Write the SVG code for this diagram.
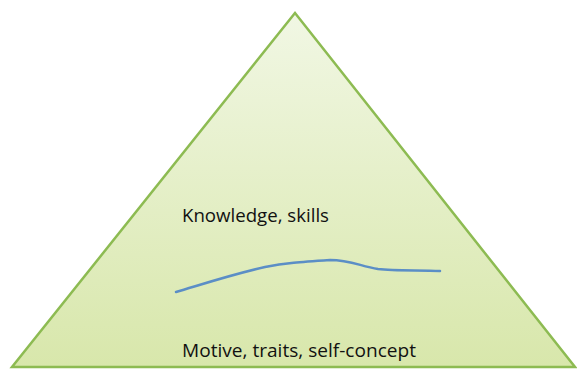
<svg xmlns="http://www.w3.org/2000/svg" width="577" height="369" viewBox="0 0 577 369">
<style>
.lbl{font-family:"Open Sans","Liberation Sans",sans-serif;font-size:18.5px;fill:#111}
</style>
<defs>
<linearGradient id="g" x1="0" y1="0" x2="0" y2="1">
<stop offset="0" stop-color="#f1f7e4"/>
<stop offset="1" stop-color="#d8e7ab"/>
</linearGradient>
</defs>
<rect width="577" height="369" fill="#ffffff"/>
<g id="pyramid">
<polygon points="295,13 575,367 12,367" fill="url(#g)" stroke="#8dbb52" stroke-width="2.5" stroke-linejoin="miter"/>
</g>
<g id="top-label">
<text class="lbl" x="182" y="222" textLength="147" lengthAdjust="spacingAndGlyphs">Knowledge, skills</text>
</g>
<g id="bottom-label">
<text class="lbl" x="182" y="357" textLength="234" lengthAdjust="spacingAndGlyphs">Motive, traits, self-concept</text>
</g>
<g id="connectors">
<path d="M176,292 C200,285 230,275 265,267 C285,263 300,262 330,260 C350,260 360,266 378,269 C395,271 420,270 440,271" fill="none" stroke="#5b8ec6" stroke-width="2.5" stroke-linecap="round"/>
</g>
</svg>
